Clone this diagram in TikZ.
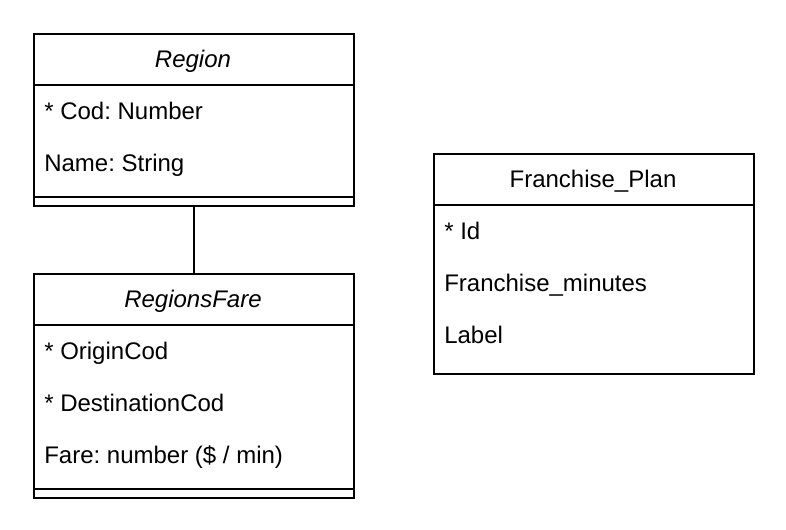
\documentclass[tikz,border=0pt]{standalone}
\usepackage{fontspec}
\setmainfont{Liberation Sans}
\usepackage{tikz}
\frenchspacing
\tikzset{
  x=0.75pt, y=-0.75pt,
  line/.style={draw=black, line width=1.5pt},
  classbox/.style={line, rectangle, anchor=north west, inner sep=0pt, minimum width=240pt},
  hdr/.style={anchor=base, inner sep=0pt, font=\fontsize{18}{21}\selectfont},
  hdri/.style={hdr, font=\fontsize{18}{21}\selectfont\itshape},
  attr/.style={anchor=base west, inner sep=0pt, font=\fontsize{18}{21}\selectfont},
}

\begin{document}
\begin{tikzpicture}
  \useasboundingbox (0,0) rectangle (786,530);
  % class boxes
  \node[classbox, minimum height=129pt] (region) at (33,33) {};
  \node[classbox, minimum height=168pt] (fare) at (33,273) {};
  \node[classbox, minimum height=165pt] (plan) at (433,153) {};
  % compartment lines
  \draw[line] (region.north west) ++(0,52) -- ++(320,0);
  \draw[line] (region.north west) ++(0,164) -- ++(320,0);
  \draw[line] (fare.north west) ++(0,52) -- ++(320,0);
  \draw[line] (fare.north west) ++(0,216) -- ++(320,0);
  \draw[line] (plan.north west) ++(0,52) -- ++(320,0);
  % headers
  \node[hdri] (regionname) at (193,68) {Region};
  \node[hdri] (farename) at (193,308) {RegionsFare};
  \node[hdr] (planname) at (593,188) {Franchise\_Plan};
  % attributes
  \node[attr] (cod) at (44,120) {* Cod: Number};
  \node[attr] (name) at (44,172) {Name: String};
  \node[attr] (origin) at (44,360) {* OriginCod};
  \node[attr] (dest) at (44,412) {* DestinationCod};
  \node[attr] (farev) at (44,464) {Fare: number (\$ / min)};
  \node[attr] (id) at (444,240) {* Id};
  \node[attr] (minutes) at (444,292) {Franchise\_minutes};
  \node[attr] (label) at (444,344) {Label};
  % association
  \draw[line] (region.south) -- (fare.north);
\end{tikzpicture}
\end{document}
